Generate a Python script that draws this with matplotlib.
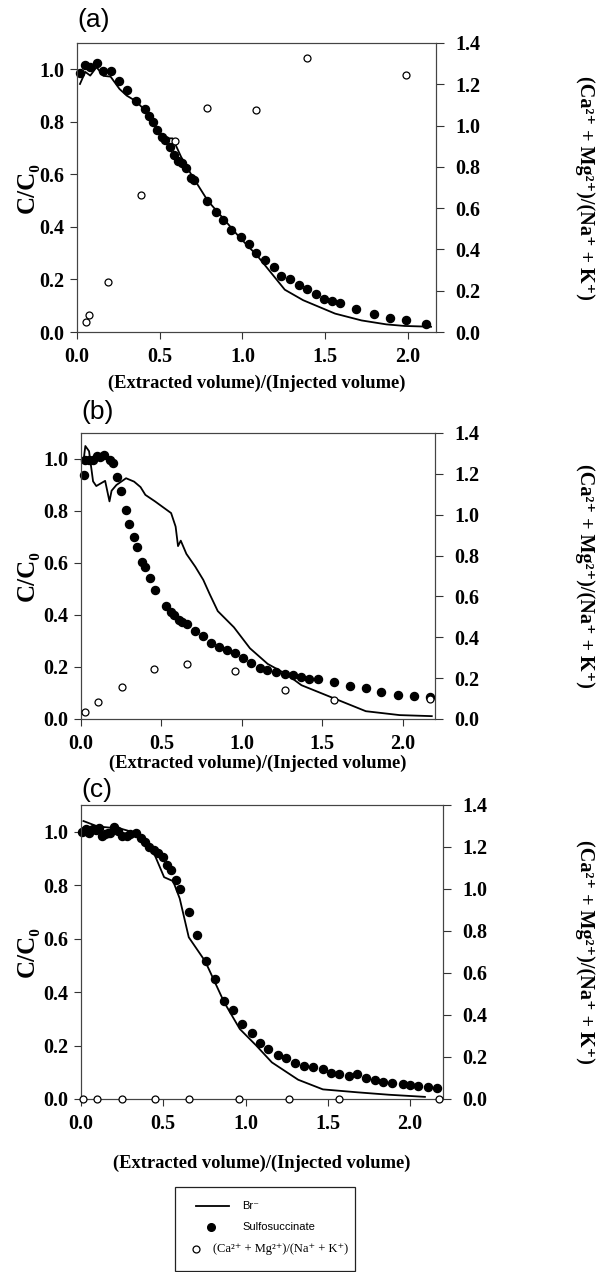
import matplotlib
matplotlib.use("Agg")
import matplotlib.pyplot as plt
from matplotlib.lines import Line2D
from matplotlib.patches import Rectangle

# ---------------- data ----------------
# Panel (a)
a_br_x = [0.018, 0.05, 0.08, 0.118, 0.16, 0.203, 0.257, 0.30, 0.36, 0.417, 0.514, 0.559, 0.578,
          0.629, 0.69, 0.79, 0.887, 0.98, 1.09, 1.256, 1.367, 1.56, 1.72, 1.87, 1.98, 2.14]
a_br_y = [0.944, 0.99, 0.976, 1.008, 0.975, 0.972, 0.925, 0.90, 0.877, 0.839, 0.743, 0.737, 0.737,
          0.667, 0.60, 0.50, 0.43, 0.362, 0.29, 0.161, 0.121, 0.070, 0.044, 0.029, 0.023, 0.02]
a_sulfo_x = [0.016, 0.048, 0.078, 0.118, 0.158, 0.205, 0.255, 0.303, 0.356, 0.409, 0.433, 0.461,
             0.483, 0.514, 0.533, 0.563, 0.589, 0.609, 0.637, 0.66, 0.692, 0.707, 0.787, 0.838,
             0.885, 0.933, 0.989, 1.037, 1.084, 1.138, 1.188, 1.235, 1.285, 1.341, 1.392, 1.442,
             1.492, 1.539, 1.587, 1.688, 1.795, 1.893, 1.99, 2.107]
a_sulfo_y = [0.986, 1.018, 1.007, 1.022, 0.994, 0.995, 0.957, 0.923, 0.881, 0.849, 0.821, 0.80,
             0.77, 0.744, 0.73, 0.706, 0.674, 0.652, 0.645, 0.624, 0.586, 0.577, 0.497, 0.455,
             0.427, 0.389, 0.361, 0.335, 0.299, 0.274, 0.248, 0.214, 0.200, 0.180, 0.163, 0.144,
             0.127, 0.117, 0.112, 0.089, 0.070, 0.053, 0.045, 0.029]
a_ratio_x = [0.055, 0.07, 0.187, 0.384, 0.59, 0.787, 1.084, 1.39, 1.986]
a_ratio_y = [0.05, 0.081, 0.243, 0.666, 0.926, 1.087, 1.074, 1.329, 1.243]

# Panel (b)
b_br_x = [0.015, 0.027, 0.05, 0.075, 0.095, 0.15, 0.177, 0.19, 0.22, 0.28, 0.33, 0.37, 0.40,
          0.46, 0.56, 0.588, 0.603, 0.62, 0.655, 0.71, 0.76, 0.80, 0.85, 0.95, 1.05, 1.16,
          1.28, 1.37, 1.57, 1.77, 1.98, 2.18]
b_br_y = [0.99, 1.05, 1.03, 0.914, 0.896, 0.916, 0.837, 0.878, 0.90, 0.926, 0.913, 0.892, 0.862,
          0.837, 0.792, 0.74, 0.665, 0.686, 0.635, 0.586, 0.535, 0.48, 0.415, 0.353, 0.272, 0.212,
          0.171, 0.130, 0.080, 0.030, 0.015, 0.011]
b_sulfo_x = [0.017, 0.025, 0.049, 0.076, 0.097, 0.121, 0.144, 0.181, 0.199, 0.226, 0.248, 0.278,
             0.298, 0.328, 0.349, 0.38, 0.398, 0.43, 0.458, 0.53, 0.559, 0.58, 0.608, 0.63, 0.658,
             0.71, 0.758, 0.806, 0.857, 0.908, 0.958, 1.009, 1.059, 1.11, 1.159, 1.21, 1.27,
             1.32, 1.368, 1.419, 1.47, 1.572, 1.67, 1.769, 1.866, 1.969, 2.072, 2.172]
b_sulfo_y = [0.937, 0.997, 0.995, 0.995, 1.01, 1.008, 1.017, 0.995, 0.986, 0.931, 0.876, 0.805,
             0.75, 0.701, 0.66, 0.603, 0.584, 0.543, 0.497, 0.433, 0.413, 0.40, 0.379, 0.372, 0.366,
             0.338, 0.321, 0.293, 0.276, 0.264, 0.253, 0.234, 0.215, 0.197, 0.188, 0.179, 0.173,
             0.171, 0.163, 0.155, 0.153, 0.141, 0.127, 0.12, 0.102, 0.092, 0.088, 0.086]
b_ratio_x = [0.022, 0.105, 0.256, 0.455, 0.657, 0.958, 1.266, 1.571, 2.172]
b_ratio_y = [0.033, 0.082, 0.156, 0.247, 0.271, 0.235, 0.143, 0.093, 0.098]

# Panel (c)
c_br_x = [0.015, 0.10, 0.18, 0.25, 0.33, 0.45, 0.505, 0.56, 0.60, 0.655, 0.755, 0.87, 0.965,
          1.065, 1.16, 1.32, 1.47, 1.68, 1.87, 2.09]
c_br_y = [1.04, 1.02, 1.015, 1.01, 0.996, 0.91, 0.83, 0.815, 0.75, 0.605, 0.515, 0.362, 0.262,
          0.20, 0.137, 0.072, 0.036, 0.025, 0.016, 0.008]
c_sulfo_x = [0.005, 0.018, 0.032, 0.046, 0.058, 0.075, 0.093, 0.107, 0.128, 0.146, 0.163, 0.177,
             0.202, 0.225, 0.251, 0.277, 0.30, 0.333, 0.365, 0.386, 0.414, 0.444, 0.467, 0.496,
             0.523, 0.546, 0.575, 0.604, 0.655, 0.705, 0.762, 0.815, 0.868, 0.922, 0.977, 1.037,
             1.088, 1.138, 1.198, 1.247, 1.298, 1.355, 1.41, 1.47, 1.52, 1.57, 1.63, 1.68, 1.73,
             1.787, 1.836, 1.893, 1.954, 2.0, 2.05, 2.111, 2.162]
c_sulfo_y = [1.0, 1.003, 1.011, 0.996, 1.005, 1.009, 1.005, 1.015, 0.984, 0.99, 0.994, 0.996,
             1.019, 1.003, 0.984, 0.984, 0.99, 0.996, 0.975, 0.962, 0.941, 0.93, 0.922, 0.906,
             0.874, 0.855, 0.818, 0.786, 0.70, 0.615, 0.517, 0.45, 0.368, 0.334, 0.28, 0.246,
             0.209, 0.186, 0.163, 0.152, 0.136, 0.125, 0.121, 0.111, 0.099, 0.093, 0.087, 0.093,
             0.078, 0.071, 0.065, 0.06, 0.056, 0.054, 0.05, 0.045, 0.041]
c_ratio_x = [0.01, 0.095, 0.25, 0.45, 0.655, 0.958, 1.263, 1.566, 2.176]
c_ratio_y = [0.0, 0.0, 0.0, 0.0, 0.0, 0.0, 0.0, 0.0, 0.0]

panels = [
    ("(a)", a_br_x, a_br_y, a_sulfo_x, a_sulfo_y, a_ratio_x, a_ratio_y, 2.17),
    ("(b)", b_br_x, b_br_y, b_sulfo_x, b_sulfo_y, b_ratio_x, b_ratio_y, 2.2),
    ("(c)", c_br_x, c_br_y, c_sulfo_x, c_sulfo_y, c_ratio_x, c_ratio_y, 2.2),
]

xticks = [0.0, 0.5, 1.0, 1.5, 2.0]
lticks = [0.0, 0.2, 0.4, 0.6, 0.8, 1.0]
rticks = [0.0, 0.2, 0.4, 0.6, 0.8, 1.0, 1.2, 1.4]

legend_labels = ["Br\u207b", "Sulfosuccinate",
                 "(Ca\u00b2\u207a + Mg\u00b2\u207a)/(Na\u207a + K\u207a)"]

# ---------------- layout ----------------
W, H = 601, 1272
fig = plt.figure(figsize=(W / 100, H / 100), dpi=100)

SERIF = ["Liberation Serif", "DejaVu Serif"]
SANS = ["Liberation Sans", "DejaVu Sans"]

boxes = [  # left, right, top, bottom in pixels
    (77, 436, 43, 332),
    (81, 435, 433, 719),
    (81, 443, 805, 1099),
]
panel_lbl = [(77, 20), (82, 412), (72, 790)]
xlabel_y = [383, 763, 1163]

def fx(px):
    return px / W

def fy(py):
    return 1 - py / H

for i, (lbl, bx, by, sx, sy, rx, ry, xmax) in enumerate(panels):
    l, r, t, b = boxes[i]
    ax = fig.add_axes([fx(l), fy(b), fx(r) - fx(l), fy(t) - fy(b)])
    ax2 = ax.twinx()
    ax.set_xlim(0, xmax)
    ax.set_ylim(0, 1.1)
    ax2.set_ylim(0, 1.4)

    ax.plot(bx, by, color="black", lw=1.3, zorder=3)
    ax.plot(sx, sy, "o", color="black", ms=5.8, mec="black", zorder=4, clip_on=False)
    ax2.plot(rx, ry, "o", mfc="white", mec="black", mew=0.9, ms=5.0, zorder=5, clip_on=False)

    ax.set_xticks(xticks)
    ax.set_xticklabels([f"{v:.1f}" for v in xticks])
    ax.set_yticks(lticks)
    ax.set_yticklabels([f"{v:.1f}" for v in lticks])
    ax2.set_yticks(rticks)
    ax2.set_yticklabels([f"{v:.1f}" for v in rticks])

    for a in (ax, ax2):
        a.tick_params(direction="out", length=5, width=0.8, color="#333333",
                      labelsize=14.5, pad=4)
        for lab in a.get_xticklabels() + a.get_yticklabels():
            lab.set_fontfamily(SERIF)
            lab.set_fontweight("bold")
        for sp in a.spines.values():
            sp.set_linewidth(0.8)
            sp.set_color("#444444")
    ax.tick_params(axis="x", pad=6)
    ax2.tick_params(axis="y", pad=8, length=6)

    fig.text(fx(l), fy(panel_lbl[i][1]), lbl, fontsize=19, family=SANS,
             ha="left", va="center")
    fig.text(fx((l + r) / 2), fy(xlabel_y[i]),
             "(Extracted volume)/(Injected volume)", fontsize=13.3,
             family=SERIF, fontweight="bold", ha="center", va="center")
    fig.text(fx(27), fy((t + b) / 2), "C/C\u2080", fontsize=18, family=SERIF,
             fontweight="bold", rotation=90, ha="center", va="center")
    fig.text(fx(585), fy((t + b) / 2),
             "(Ca\u00b2\u207a + Mg\u00b2\u207a)/(Na\u207a + K\u207a)", fontsize=14.5,
             family=SERIF, fontweight="bold", rotation=270, ha="center", va="center")

# ---------------- legend (drawn by hand to match layout) ----------------
fig.add_artist(Rectangle((fx(175), fy(1271)), fx(355) - fx(175), fy(1187) - fy(1271),
                         transform=fig.transFigure, fill=False, ec="#222222", lw=0.9))
fig.add_artist(Line2D([fx(196), fx(229)], [fy(1206), fy(1206)], transform=fig.transFigure,
                      color="black", lw=1.3))
fig.add_artist(Line2D([fx(211)], [fy(1227)], transform=fig.transFigure, ls="none",
                      marker="o", color="black", ms=5.5))
fig.add_artist(Line2D([fx(196)], [fy(1249)], transform=fig.transFigure, ls="none",
                      marker="o", mfc="white", mec="black", mew=0.9, ms=5.0))
fig.text(fx(242), fy(1206), legend_labels[0], fontsize=8, family=SANS, va="center")
fig.text(fx(242), fy(1227), legend_labels[1], fontsize=8, family=SANS, va="center")
fig.text(fx(213), fy(1249), legend_labels[2], fontsize=9, family=SERIF, va="center")

fig.savefig("out.png", dpi=100)
